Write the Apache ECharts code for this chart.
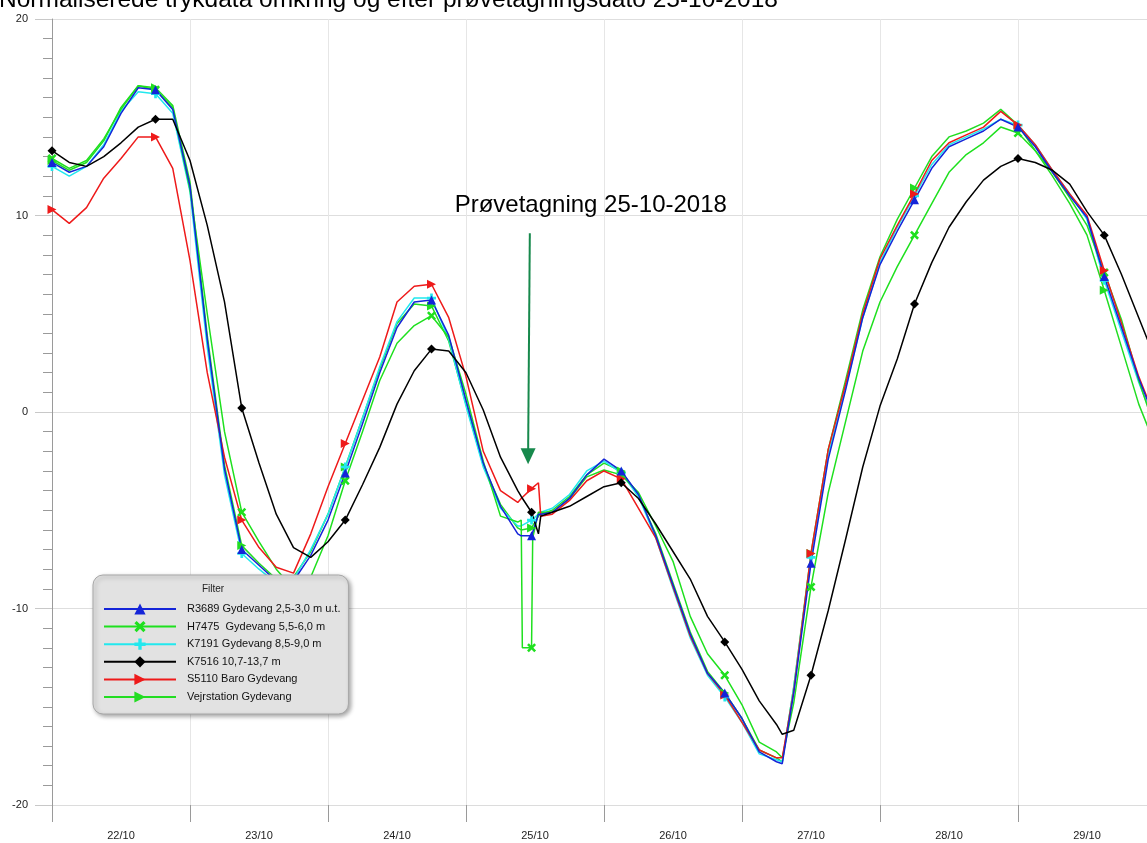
<!DOCTYPE html>
<html>
<head>
<meta charset="utf-8">
<script src="https://cdn.jsdelivr.net/npm/echarts@6/dist/echarts.min.js"></script>
<style>
html,body{margin:0;padding:0;background:#fff;overflow:hidden;}
#chart{width:1160px;height:843px;}
</style>
</head>
<body>
<div id="chart"></div>
<script>
// ---- data ----
const titleText = 'Normaliserede trykdata omkring og efter prøvetagningsdato 25-10-2018';
const dayLabels = ['22/10','23/10','24/10','25/10','26/10','27/10','28/10','29/10'];
const yTicks = [-20, -10, 0, 10, 20];
// hours since 22/10 00:00
const hours = [0,3,6,9,12,15,18,21,24,27,30,33,36,39,42,45,48,51,54,57,60,63,66,69,72,75,78,81,
  81.6,81.8,83.4,83.6,84.6,85,
  87,90,93,96,99,102,105,108,111,114,117,120,123,126,
  127,
  129,132,135,138,141,144,147,150,153,156,159,162,165,168,171,174,177,180,183,186,189,192];
const markerHours = [0,18,33,51,66,83.4,99,117,132,150,168,183];

const r3689 = [12.7,12.2,12.5,13.5,15.2,16.5,16.4,15.4,11.5,3.7,-2.9,-7.0,-7.8,-8.6,-8.6,-7.3,-5.5,-3.1,-0.6,2.0,4.3,5.6,5.7,3.9,0.6,-2.6,-4.8,-6.2,
  -6.3,-6.3,-6.3,-6.2,-5.2,-5.2,
  -5.1,-4.4,-3.2,-2.4,-3.0,-4.2,-6.3,-8.8,-11.3,-13.3,-14.3,-15.6,-17.3,-17.8,
  -17.9,
  -14.3,-7.7,-2.4,1.1,4.8,7.5,9.2,10.8,12.4,13.5,13.9,14.3,14.9,14.5,13.5,12.2,11.0,9.9,6.9,4.3,1.7,-0.5];
const h7475 = [12.9,12.4,12.8,13.9,15.4,16.6,16.4,15.5,11.3,5.0,-1.0,-5.1,-6.6,-8.0,-9.0,-8.4,-6.3,-3.5,-1.0,1.6,3.5,4.4,4.9,3.8,0.9,-2.5,-5.3,-5.6,
  -5.5,-12.0,-12.0,-6.4,-5.1,-5.1,
  -5.1,-4.4,-3.3,-2.95,-3.2,-4.1,-5.8,-7.6,-10.4,-12.3,-13.4,-14.9,-16.8,-17.3,
  -17.6,
  -14.8,-8.9,-4.1,-0.5,3.1,5.6,7.4,9.0,10.6,12.2,13.1,13.7,14.5,14.2,13.3,12.2,10.9,9.5,7.1,4.7,1.6,-1.0];
const k7191 = [12.5,12.0,12.5,13.6,15.3,16.3,16.2,15.2,11.2,3.3,-3.2,-7.2,-8.0,-8.7,-8.5,-7.0,-5.2,-2.8,-0.3,2.3,4.6,5.8,5.8,3.7,0.3,-2.8,-4.9,-5.8,
  -5.8,-5.8,-5.5,-5.4,-5.2,-5.1,
  -4.9,-4.2,-3.0,-2.5,-3.1,-4.3,-6.4,-9.0,-11.5,-13.4,-14.5,-15.8,-17.4,-17.7,
  -17.8,
  -14.0,-7.4,-2.2,1.2,4.8,7.6,9.4,11.0,12.6,13.6,14.0,14.4,14.9,14.6,13.6,12.3,11.1,9.8,6.7,4.1,1.5,-0.7];
const k7516 = [13.3,12.7,12.5,13.0,13.7,14.5,14.9,14.9,12.8,9.5,5.6,0.2,-2.6,-5.2,-6.9,-7.4,-6.6,-5.5,-3.7,-1.8,0.4,2.1,3.2,3.1,2.0,0.1,-2.3,-4.0,
  -4.3,-4.4,-5.1,-5.2,-6.2,-5.3,
  -5.1,-4.8,-4.3,-3.8,-3.6,-4.4,-5.7,-7.1,-8.5,-10.4,-11.7,-13.1,-14.7,-15.9,
  -16.4,
  -16.2,-13.4,-10.1,-6.5,-2.8,0.3,2.7,5.5,7.6,9.4,10.7,11.8,12.5,12.9,12.7,12.3,11.6,10.2,9.0,7.0,4.8,2.6];
const s5110 = [10.3,9.6,10.4,11.9,12.9,14.0,14.0,12.4,7.7,2.0,-2.3,-5.5,-6.9,-7.9,-8.2,-6.2,-3.8,-1.6,0.6,2.8,5.6,6.4,6.5,4.8,1.8,-2.0,-4.0,-4.6,
  -4.4,-4.4,-3.9,-3.8,-3.6,-5.3,
  -5.2,-4.5,-3.5,-3.0,-3.4,-4.9,-6.4,-8.9,-11.4,-13.3,-14.4,-15.8,-17.2,-17.6,
  -17.6,
  -14.2,-7.2,-1.9,1.4,5.0,7.8,9.5,11.1,12.8,13.7,14.1,14.5,15.3,14.6,13.6,12.3,11.1,10.0,7.2,4.5,1.8,-0.4];
const vejr = [12.8,12.3,12.7,13.8,15.5,16.6,16.5,15.6,11.7,3.9,-2.7,-6.8,-7.7,-8.5,-8.4,-7.1,-5.2,-2.8,-0.3,2.2,4.5,5.5,5.4,3.6,0.4,-2.7,-4.7,-5.9,
  -6.0,-6.0,-5.9,-5.9,-5.3,-5.2,
  -5.0,-4.3,-3.2,-2.6,-3.0,-4.3,-6.2,-8.7,-11.2,-13.2,-14.3,-15.6,-17.2,-17.6,
  -17.8,
  -14.0,-7.2,-1.9,1.6,5.2,7.9,9.8,11.4,13.0,14.0,14.3,14.7,15.4,14.6,13.3,12.0,10.6,9.0,6.2,3.3,0.4,-1.8];

const seriesNames = ['R3689 Gydevang 2,5-3,0 m u.t.', 'H7475  Gydevang 5,5-6,0 m', 'K7191 Gydevang 8,5-9,0 m',
  'K7516 10,7-13,7 m', 'S5110 Baro Gydevang', 'Vejrstation Gydevang'];

const annotationText = 'Prøvetagning 25-10-2018';
const annotationAt = [93.7, 10.5];      // hour, value
const arrowFrom = [83.1, 9.1];
const arrowTo = [82.8, -2.25];

// ---- styles ----
const FONT = '"Liberation Sans", Arial, sans-serif';
const SYM_X = 'path://M2,0L5,3L8,0L10,2L7,5L10,8L8,10L5,7L2,10L0,8L3,5L0,2Z';
const SYM_PLUS = 'path://M3.5,0H6.5V3.5H10V6.5H6.5V10H3.5V6.5H0V3.5H3.5Z';
const SYM_RIGHT = 'path://M0,0L10,5L0,10Z';
const SYM_DOWN = 'path://M0,0L10,0L5,10Z';

function pairs(vals) { return hours.map((h, i) => [h, vals[i]]); }
function markerSize(val) { return markerHours.indexOf(val[0]) >= 0 ? 9 : 0; }

function makeSeries(name, vals, color, symbol, extra) {
  return Object.assign({
    name: name,
    type: 'line',
    xAxisIndex: 0,
    data: pairs(vals),
    symbol: symbol,
    symbolSize: markerSize,
    showSymbol: true,
    showAllSymbol: true,
    symbolKeepAspect: true,
    lineStyle: { color: color, width: 1.5 },
    itemStyle: { color: color },
    emphasis: { disabled: true },
    animation: false
  }, extra || {});
}

const chart = echarts.init(document.getElementById('chart'), null, { renderer: 'canvas' });

const series = [
  makeSeries(seriesNames[5], vejr, '#22dd22', SYM_RIGHT),
  makeSeries(seriesNames[2], k7191, '#22e8ee', SYM_PLUS),
  makeSeries(seriesNames[1], h7475, '#1ee01e', SYM_X),
  makeSeries(seriesNames[4], s5110, '#ee1a1a', SYM_RIGHT),
  makeSeries(seriesNames[0], r3689, '#1424d8', 'triangle'),
  makeSeries(seriesNames[3], k7516, '#000000', 'diamond', {
    markLine: {
      silent: true,
      symbol: ['none', 'none'],
      lineStyle: { color: '#17894c', width: 2, type: 'solid' },
      label: { show: false },
      data: [[{ coord: arrowFrom }, { coord: arrowTo }]]
    },
    markPoint: {
      silent: true,
      data: [
        {
          coord: annotationAt, symbol: 'rect', symbolSize: 1,
          itemStyle: { color: 'rgba(0,0,0,0)' },
          label: { show: true, position: 'inside', formatter: annotationText, fontSize: 24, color: '#000', fontFamily: FONT }
        },
        {
          coord: arrowTo, symbol: SYM_DOWN, symbolSize: [15, 16], symbolKeepAspect: false,
          itemStyle: { color: '#17894c' },
          label: { show: false }
        }
      ]
    }
  })
];

chart.setOption({
  animation: false,
  backgroundColor: '#ffffff',
  title: {
    text: titleText, left: -1, top: -12, padding: 0,
    textStyle: { fontSize: 24.5, fontWeight: 'normal', color: '#000', fontFamily: FONT }
  },
  grid: { left: 52, top: 19, bottom: 38, width: 1104, containLabel: false },
  xAxis: [
    {
      type: 'value', position: 'bottom', min: 0, max: 192, interval: 24,
      axisLine: { show: true, onZero: false, lineStyle: { color: '#dcdcdc' } },
      axisTick: { show: true, length: 17, lineStyle: { color: '#9a9a9a' } },
      axisLabel: { show: false },
      splitLine: { show: true, lineStyle: { color: '#e6e6e6' } }
    },
    {
      type: 'category', position: 'bottom', data: dayLabels, boundaryGap: true,
      axisLine: { show: false, onZero: false }, axisTick: { show: false }, splitLine: { show: false },
      axisLabel: { margin: 25, fontSize: 11, color: '#222', fontFamily: FONT }
    }
  ],
  yAxis: {
    type: 'value', min: yTicks[0], max: yTicks[yTicks.length - 1], interval: 10,
    axisLine: { show: true, onZero: false, lineStyle: { color: '#9a9a9a' } },
    axisTick: { show: true, length: 17, lineStyle: { color: '#c8c8c8' } },
    minorTick: { show: true, splitNumber: 10, length: 9, lineStyle: { color: '#9a9a9a' } },
    splitLine: { show: true, lineStyle: { color: '#dedede' } },
    axisLabel: { margin: 24, fontSize: 11, color: '#222', fontFamily: FONT }
  },
  legend: {
    data: seriesNames,
    orient: 'vertical', left: 93, top: 575,
    padding: [27, 8, 10, 10],
    itemWidth: 72, itemHeight: 14, itemGap: 3.6,
    backgroundColor: '#e2e2e2', borderColor: '#a8a8a8', borderWidth: 1, borderRadius: 10,
    shadowBlur: 4, shadowColor: 'rgba(0,0,0,0.35)', shadowOffsetX: 2, shadowOffsetY: 2,
    selectedMode: false,
    textStyle: { fontSize: 11, lineHeight: 14, color: '#111', fontFamily: FONT, padding: [0, 0, 0, 6] }
  },
  graphic: [{
    type: 'text', x: 213, y: 589, z: 100,
    style: { text: 'Filter', align: 'center', verticalAlign: 'middle', fontSize: 10, fill: '#222', fontFamily: FONT }
  }],
  series: series
});
</script>
</body>
</html>
